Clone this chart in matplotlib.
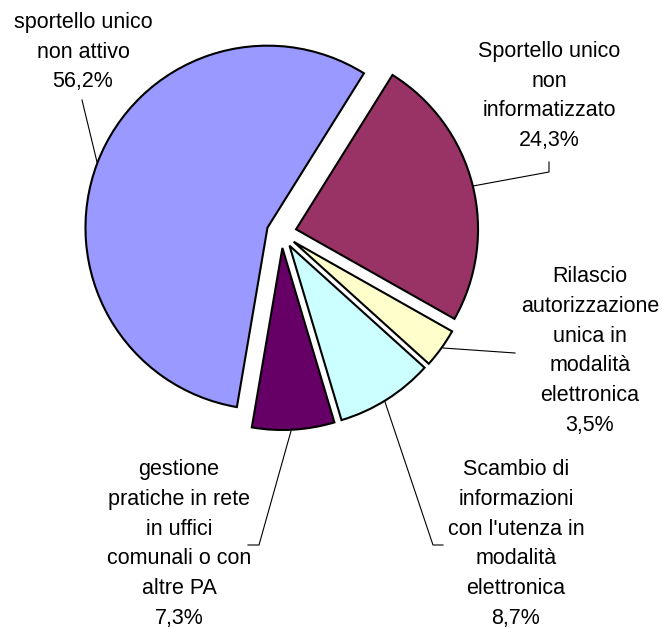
import matplotlib.pyplot as plt

# slices in drawing order (clockwise, starting just right of 12 o'clock)
labels = ['Sportello unico\nnon\ninformatizzato',
          'Rilascio\nautorizzazione\nunica in\nmodalità\nelettronica',
          "Scambio di\ninformazioni\ncon l'utenza in\nmodalità\nelettronica",
          'gestione\npratiche in rete\nin uffici\ncomunali o con\naltre PA',
          'sportello unico\nnon attivo']
values = [24.3, 3.5, 8.7, 7.3, 56.2]
colors = ['#993366', '#FFFFCC', '#CCFFFF', '#660066', '#9999FF']

W, H = 662, 628

def px(x, y):
    # image pixel coords (y down) -> data coords (y up)
    return x, H - y

# label centres and leader lines, in pixels
label_pos = [(549, 96), (590, 351), (516, 544), (179, 544), (83, 52)]
leaders = [
    [(549, 162), (549, 172), (473, 186)],
    [(515, 353), (443, 348)],
    [(443, 545), (433, 545), (385, 402)],
    [(248, 545), (259, 545), (291, 431)],
    [(82, 100), (97, 162)],
]

fig = plt.figure(figsize=(W / 100, H / 100), dpi=100)
ax = fig.add_axes([0, 0, 1, 1])

ax.pie(values, colors=colors, startangle=58, counterclock=False,
       explode=[15] * len(values), radius=182, center=px(281.5, 233),
       wedgeprops=dict(edgecolor='black', linewidth=1.5))

for lab, v, (tx, ty), pts in zip(labels, values, label_pos, leaders):
    txt = lab + '\n' + ('%.1f%%' % v).replace('.', ',')
    ax.text(*px(tx, ty), txt, ha='center', va='center', multialignment='center',
            fontsize=15.5, family='Liberation Sans', linespacing=1.55)
    xs = [p[0] for p in pts]
    ys = [H - p[1] for p in pts]
    ax.plot(xs, ys, color='black', lw=0.8)

ax.set_xlim(0, W)
ax.set_ylim(0, H)
ax.set_aspect('equal')
ax.axis('off')

fig.savefig('out.png', dpi=100)
